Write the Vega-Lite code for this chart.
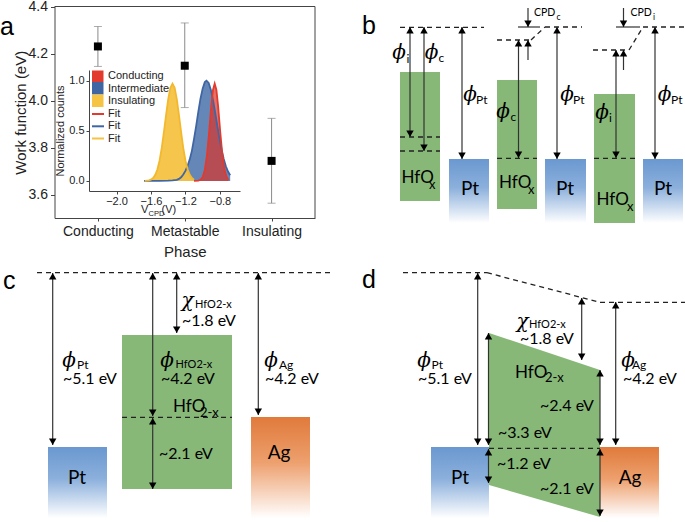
{
"$schema":"https://vega.github.io/schema/vega-lite/v6.json",
"width":685,"height":522,"autosize":{"type":"none"},"padding":0,"background":"white",
"config":{"view":{"stroke":null},"axis":{"grid":false,"labelFont":"Liberation Sans","titleFont":"Liberation Sans","domainColor":"#444","tickColor":"#444","labelColor":"#222","titleColor":"#222","titleFontWeight":"normal","labelOverlap":false}},
"datasets":{
"green":[{"x":400,"x2":440,"y":72,"y2":201},{"x":497,"x2":537,"y":80,"y2":209},{"x":594,"x2":635,"y":94,"y2":223},{"x":122,"x2":232,"y":335,"y2":489}],
"pt":[{"x":449,"x2":489,"y":159,"y2":223},{"x":545,"x2":586,"y":159,"y2":223},{"x":643,"x2":683,"y":159,"y2":223},{"x":48,"x2":107,"y":447,"y2":518},{"x":431,"x2":489,"y":447,"y2":518}],
"ag":[{"x":251,"x2":310,"y":417,"y2":518},{"x":600,"x2":659,"y":447,"y2":518}],
"trap":[{"x":489,"y":333,"y2":485},{"x":600,"y":370,"y2":517}],
"solid":[{"x":410,"y":27,"x2":410,"y2":137},{"x":424,"y":27,"x2":424,"y2":151},{"x":462,"y":27,"x2":462,"y2":159},{"x":518.5,"y":40,"x2":518.5,"y2":158},{"x":528,"y":40,"x2":528,"y2":60},{"x":528,"y":8,"x2":528,"y2":27},{"x":518,"y":27,"x2":540,"y2":27},{"x":557,"y":27,"x2":557,"y2":159},{"x":616,"y":50,"x2":616,"y2":158},{"x":623.5,"y":50,"x2":623.5,"y2":70},{"x":623.5,"y":8,"x2":623.5,"y2":27},{"x":616,"y":27,"x2":640,"y2":27},{"x":655,"y":27,"x2":655,"y2":159},
{"x":52.7,"y":273,"x2":52.7,"y2":445},{"x":152.7,"y":273,"x2":152.7,"y2":416},{"x":152.7,"y":418,"x2":152.7,"y2":489},{"x":176.7,"y":273,"x2":176.7,"y2":333},{"x":258.3,"y":273,"x2":258.3,"y2":415},
{"x":477.7,"y":273,"x2":477.7,"y2":445},{"x":488.5,"y":333,"x2":488.5,"y2":445},{"x":488.5,"y":449,"x2":488.5,"y2":483},{"x":600,"y":370,"x2":600,"y2":445},{"x":600,"y":449,"x2":600,"y2":516},{"x":581.7,"y":298,"x2":581.7,"y2":360},{"x":615.7,"y":302,"x2":615.7,"y2":445}],
"frame":[{"x":54.5,"y":6.5,"x2":315,"y2":6.5},{"x":315,"y":6.5,"x2":315,"y2":218}],
"dashed":[{"x":400,"y":27.3,"x2":484,"y2":27.3},{"x":400,"y":137,"x2":440,"y2":137},{"x":400,"y":151,"x2":440,"y2":151},{"x":497,"y":40,"x2":531,"y2":40},{"x":531,"y":40,"x2":545,"y2":27},{"x":545,"y":27,"x2":582,"y2":27},{"x":497,"y":158.3,"x2":537,"y2":158.3},{"x":593,"y":50,"x2":629,"y2":50},{"x":629,"y":50,"x2":643,"y2":27},{"x":643,"y":27,"x2":685,"y2":27},{"x":594,"y":158.3,"x2":635,"y2":158.3},
{"x":37,"y":272.7,"x2":330,"y2":272.7},{"x":122,"y":417.3,"x2":232,"y2":417.3},
{"x":403,"y":272.7,"x2":487,"y2":272.7},{"x":487,"y":272.7,"x2":600,"y2":302.3},{"x":600,"y":302.3,"x2":685,"y2":302.3},{"x":489,"y":448.3,"x2":600,"y2":448.3}],
"up":[{"x":410,"y":27},{"x":424,"y":27},{"x":462,"y":27},{"x":518.5,"y":40},{"x":528,"y":40},{"x":557,"y":27},{"x":616,"y":50},{"x":623.5,"y":50},{"x":655,"y":27},
{"x":52.7,"y":273},{"x":152.7,"y":273},{"x":152.7,"y":418},{"x":176.7,"y":273},{"x":258.3,"y":273},
{"x":477.7,"y":273},{"x":488.5,"y":333},{"x":488.5,"y":449},{"x":600,"y":370},{"x":600,"y":449},{"x":581.7,"y":298},{"x":615.7,"y":302}],
"down":[{"x":410,"y":137},{"x":424,"y":151},{"x":462,"y":159},{"x":518.5,"y":158},{"x":528,"y":27},{"x":557,"y":159},{"x":616,"y":158},{"x":623.5,"y":27},{"x":655,"y":159},
{"x":52.7,"y":445},{"x":152.7,"y":416},{"x":152.7,"y":489},{"x":176.7,"y":333},{"x":258.3,"y":415},
{"x":477.7,"y":445},{"x":488.5,"y":445},{"x":488.5,"y":483},{"x":600,"y":445},{"x":600,"y":516},{"x":581.7,"y":360},{"x":615.7,"y":445}],
"greek":[{"x":399,"y":53,"t":"ϕ"},{"x":431.5,"y":53,"t":"ϕ"},{"x":470,"y":95,"t":"ϕ"},{"x":503,"y":112,"t":"ϕ"},{"x":567,"y":95,"t":"ϕ"},{"x":602,"y":113,"t":"ϕ"},{"x":664.5,"y":95,"t":"ϕ"},{"x":69,"y":361,"t":"ϕ"},{"x":167,"y":361,"t":"ϕ"},{"x":271,"y":361,"t":"ϕ"},{"x":187.5,"y":301,"t":"χ"},{"x":424,"y":361,"t":"ϕ"},{"x":522.5,"y":322,"t":"χ"},{"x":628,"y":361,"t":"ϕ"}],
"sub12":[{"x":406.5,"y":59,"t":"i"},{"x":438.5,"y":58,"t":"c"},{"x":476,"y":100,"t":"Pt"},{"x":510.5,"y":117,"t":"c"},{"x":573,"y":100,"t":"Pt"},{"x":609,"y":118,"t":"i"},{"x":671,"y":100,"t":"Pt"},{"x":77,"y":365,"t":"Pt"},{"x":279,"y":365,"t":"Ag"},{"x":632,"y":365,"t":"Ag"},{"x":431.5,"y":365,"t":"Pt"}],
"sub11":[{"x":175.5,"y":365,"t":"HfO2-x"},{"x":195,"y":305,"t":"HfO2-x"},{"x":529,"y":325,"t":"HfO2-x"}],
"body16":[{"x":63,"y":379,"t":"~5.1 eV"},{"x":182,"y":321,"t":"~1.8 eV"},{"x":161,"y":379,"t":"~4.2 eV"},{"x":159,"y":454,"t":"~2.1 eV"},{"x":265,"y":379,"t":"~4.2 eV"},{"x":520,"y":339,"t":"~1.8 eV"},{"x":418,"y":379,"t":"~5.1 eV"},{"x":540,"y":406,"t":"~2.4 eV"},{"x":498,"y":433,"t":"~3.3 eV"},{"x":497,"y":464,"t":"~1.2 eV"},{"x":540,"y":489,"t":"~2.1 eV"},{"x":623,"y":379,"t":"~4.2 eV"}],
"hfo":[{"x":401.5,"y":178,"t":"HfO"},{"x":499,"y":183,"t":"HfO"},{"x":596.5,"y":200,"t":"HfO"},{"x":173,"y":407,"t":"HfO"},{"x":515,"y":373,"t":"HfO"}],
"sub13":[{"x":429,"y":185,"t":"x"},{"x":528,"y":190,"t":"x"},{"x":627,"y":207,"t":"x"},{"x":200,"y":413,"t":"2-x"},{"x":545,"y":378,"t":"2-x"}],
"metal":[{"x":470,"y":188.5,"t":"Pt"},{"x":565,"y":188.5,"t":"Pt"},{"x":663,"y":188.5,"t":"Pt"},{"x":77,"y":478,"t":"Pt"},{"x":279,"y":453,"t":"Ag"},{"x":460,"y":478,"t":"Pt"},{"x":630,"y":478,"t":"Ag"}],
"cpd":[{"x":534,"y":13,"t":"CPD"},{"x":630.5,"y":13,"t":"CPD"}],
"cpdsub":[{"x":556.5,"y":17,"t":"c"},{"x":653,"y":17,"t":"i"}],
"letters":[{"x":0,"y":35,"t":"a"},{"x":362,"y":33.5,"t":"b"},{"x":3,"y":289,"t":"c"},{"x":362,"y":288,"t":"d"}],
"legsq":[{"x":92,"x2":103.5,"y":70.5,"y2":82,"s":"Conducting"},{"x":92,"x2":103.5,"y":82,"y2":94.5,"s":"Intermediate"},{"x":92,"x2":103.5,"y":94.5,"y2":107,"s":"Insulating"}],
"legln":[{"x":92,"x2":104,"y":114,"s":"Conducting"},{"x":92,"x2":104,"y":126.3,"s":"Intermediate"},{"x":92,"x2":104,"y":138.5,"s":"Insulating"}],
"legtxt":[{"x":108,"y":76,"t":"Conducting"},{"x":108,"y":88.5,"t":"Intermediate"},{"x":108,"y":100.5,"t":"Insulating"},{"x":108,"y":114,"t":"Fit"},{"x":108,"y":126.3,"t":"Fit"},{"x":108,"y":138.5,"t":"Fit"},{"x":141,"y":209.5,"t":"V"},{"x":161.5,"y":209.5,"t":"(V)"}],
"legsub":[{"x":148.5,"y":214,"t":"CPD"}],
"wf":[{"phase":"Conducting","wf":4.23,"lo":4.145,"hi":4.315},{"phase":"Metastable","wf":4.148,"lo":3.97,"hi":4.33},{"phase":"Insulating","wf":3.743,"lo":3.563,"hi":3.924}],
"ins":[{"v":-1.67,"c":0.001},{"v":-1.625,"c":0.005},{"v":-1.6,"c":0.013},{"v":-1.575,"c":0.029},{"v":-1.55,"c":0.061},{"v":-1.525,"c":0.116},{"v":-1.5,"c":0.204},{"v":-1.475,"c":0.329},{"v":-1.45,"c":0.486},{"v":-1.425,"c":0.657},{"v":-1.4,"c":0.816},{"v":-1.375,"c":0.929},{"v":-1.35,"c":0.97},{"v":-1.325,"c":0.929},{"v":-1.3,"c":0.816},{"v":-1.275,"c":0.657},{"v":-1.25,"c":0.486},{"v":-1.225,"c":0.329},{"v":-1.2,"c":0.204},{"v":-1.175,"c":0.116},{"v":-1.15,"c":0.061},{"v":-1.125,"c":0.029},{"v":-1.1,"c":0.013}],
"int":[{"v":-1.68,"c":0},{"v":-1.5,"c":0.001},{"v":-1.4,"c":0.003},{"v":-1.35,"c":0.006},{"v":-1.3,"c":0.011},{"v":-1.275,"c":0.021},{"v":-1.25,"c":0.037},{"v":-1.225,"c":0.064},{"v":-1.2,"c":0.1},{"v":-1.175,"c":0.15},{"v":-1.15,"c":0.215},{"v":-1.125,"c":0.3},{"v":-1.1,"c":0.42},{"v":-1.075,"c":0.55},{"v":-1.05,"c":0.69},{"v":-1.025,"c":0.82},{"v":-1.0,"c":0.92},{"v":-0.975,"c":0.985},{"v":-0.955,"c":1.0},{"v":-0.93,"c":0.977},{"v":-0.905,"c":0.91},{"v":-0.88,"c":0.808},{"v":-0.855,"c":0.685},{"v":-0.83,"c":0.554},{"v":-0.805,"c":0.427},{"v":-0.78,"c":0.314},{"v":-0.755,"c":0.22},{"v":-0.73,"c":0.147},{"v":-0.705,"c":0.094},{"v":-0.68,"c":0.057}],
"con":[{"v":-1.1,"c":0},{"v":-1.05,"c":0.003},{"v":-1.025,"c":0.011},{"v":-1.0,"c":0.038},{"v":-0.975,"c":0.109},{"v":-0.95,"c":0.254},{"v":-0.925,"c":0.483},{"v":-0.9,"c":0.745},{"v":-0.88,"c":0.908},{"v":-0.86,"c":0.97},{"v":-0.84,"c":0.908},{"v":-0.82,"c":0.745},{"v":-0.795,"c":0.483},{"v":-0.77,"c":0.254},{"v":-0.745,"c":0.109},{"v":-0.72,"c":0.038},{"v":-0.7,"c":0.011}]
},
"layer":[
{"layer":[
 {"data":{"name":"green"},"mark":{"type":"rect","color":"#87b878"},"encoding":{"x":{"field":"x","type":"quantitative","scale":{"domain":[0,685],"range":[0,685],"nice":false,"zero":false},"axis":null},"x2":{"field":"x2"},"y":{"field":"y","type":"quantitative","scale":{"domain":[0,522],"range":[0,522],"nice":false,"zero":false},"axis":null},"y2":{"field":"y2"}}},
 {"data":{"name":"trap"},"mark":{"type":"area","color":"#87b878","opacity":1},"encoding":{"x":{"field":"x","type":"quantitative","scale":{"domain":[0,685],"range":[0,685],"nice":false,"zero":false},"axis":null},"y":{"field":"y","type":"quantitative","stack":null,"scale":{"domain":[0,522],"range":[0,522],"nice":false,"zero":false},"axis":null},"y2":{"field":"y2"}}},
 {"data":{"name":"pt"},"mark":{"type":"rect","fill":{"gradient":"linear","x1":0,"y1":0,"x2":0,"y2":1,"stops":[{"offset":0,"color":"#6a98d0"},{"offset":0.45,"color":"#8cb0dc"},{"offset":1,"color":"#ffffff"}]}},"encoding":{"x":{"field":"x","type":"quantitative","scale":{"domain":[0,685],"range":[0,685],"nice":false,"zero":false},"axis":null},"x2":{"field":"x2"},"y":{"field":"y","type":"quantitative","scale":{"domain":[0,522],"range":[0,522],"nice":false,"zero":false},"axis":null},"y2":{"field":"y2"}}},
 {"data":{"name":"ag"},"mark":{"type":"rect","fill":{"gradient":"linear","x1":0,"y1":0,"x2":0,"y2":1,"stops":[{"offset":0,"color":"#e07a3b"},{"offset":0.45,"color":"#eda06e"},{"offset":1,"color":"#ffffff"}]}},"encoding":{"x":{"field":"x","type":"quantitative","scale":{"domain":[0,685],"range":[0,685],"nice":false,"zero":false},"axis":null},"x2":{"field":"x2"},"y":{"field":"y","type":"quantitative","scale":{"domain":[0,522],"range":[0,522],"nice":false,"zero":false},"axis":null},"y2":{"field":"y2"}}},
 {"data":{"name":"dashed"},"mark":{"type":"rule","color":"#222","strokeWidth":1.3,"strokeDash":[5,4]},"encoding":{"x":{"field":"x","type":"quantitative","scale":{"domain":[0,685],"range":[0,685],"nice":false,"zero":false},"axis":null},"x2":{"field":"x2"},"y":{"field":"y","type":"quantitative","scale":{"domain":[0,522],"range":[0,522],"nice":false,"zero":false},"axis":null},"y2":{"field":"y2"}}},
 {"data":{"name":"solid"},"mark":{"type":"rule","color":"#333","strokeWidth":1.2},"encoding":{"x":{"field":"x","type":"quantitative","scale":{"domain":[0,685],"range":[0,685],"nice":false,"zero":false},"axis":null},"x2":{"field":"x2"},"y":{"field":"y","type":"quantitative","scale":{"domain":[0,522],"range":[0,522],"nice":false,"zero":false},"axis":null},"y2":{"field":"y2"}}},
 {"data":{"name":"frame"},"mark":{"type":"rule","color":"#444","strokeWidth":1},"encoding":{"x":{"field":"x","type":"quantitative","scale":{"domain":[0,685],"range":[0,685],"nice":false,"zero":false},"axis":null},"x2":{"field":"x2"},"y":{"field":"y","type":"quantitative","scale":{"domain":[0,522],"range":[0,522],"nice":false,"zero":false},"axis":null},"y2":{"field":"y2"}}},
 {"data":{"name":"up"},"mark":{"type":"point","shape":"triangle-up","filled":true,"color":"#000","opacity":1,"size":55,"yOffset":3.3},"encoding":{"x":{"field":"x","type":"quantitative","scale":{"domain":[0,685],"range":[0,685],"nice":false,"zero":false},"axis":null},"y":{"field":"y","type":"quantitative","scale":{"domain":[0,522],"range":[0,522],"nice":false,"zero":false},"axis":null}}},
 {"data":{"name":"down"},"mark":{"type":"point","shape":"triangle-down","filled":true,"color":"#000","opacity":1,"size":55,"yOffset":-3.3},"encoding":{"x":{"field":"x","type":"quantitative","scale":{"domain":[0,685],"range":[0,685],"nice":false,"zero":false},"axis":null},"y":{"field":"y","type":"quantitative","scale":{"domain":[0,522],"range":[0,522],"nice":false,"zero":false},"axis":null}}},
 {"data":{"name":"greek"},"mark":{"type":"text","font":"DejaVu Serif","fontStyle":"italic","fontSize":20,"align":"center","baseline":"middle","color":"#000"},"encoding":{"x":{"field":"x","type":"quantitative","scale":{"domain":[0,685],"range":[0,685],"nice":false,"zero":false},"axis":null},"y":{"field":"y","type":"quantitative","scale":{"domain":[0,522],"range":[0,522],"nice":false,"zero":false},"axis":null},"text":{"field":"t"}}},
 {"data":{"name":"sub12"},"mark":{"type":"text","font":"Lato","fontSize":12,"align":"left","baseline":"middle","color":"#000"},"encoding":{"x":{"field":"x","type":"quantitative","scale":{"domain":[0,685],"range":[0,685],"nice":false,"zero":false},"axis":null},"y":{"field":"y","type":"quantitative","scale":{"domain":[0,522],"range":[0,522],"nice":false,"zero":false},"axis":null},"text":{"field":"t"}}},
 {"data":{"name":"sub11"},"mark":{"type":"text","font":"Lato","fontSize":11,"align":"left","baseline":"middle","color":"#000"},"encoding":{"x":{"field":"x","type":"quantitative","scale":{"domain":[0,685],"range":[0,685],"nice":false,"zero":false},"axis":null},"y":{"field":"y","type":"quantitative","scale":{"domain":[0,522],"range":[0,522],"nice":false,"zero":false},"axis":null},"text":{"field":"t"}}},
 {"data":{"name":"body16"},"mark":{"type":"text","font":"Lato","fontSize":16,"align":"left","baseline":"middle","color":"#000"},"encoding":{"x":{"field":"x","type":"quantitative","scale":{"domain":[0,685],"range":[0,685],"nice":false,"zero":false},"axis":null},"y":{"field":"y","type":"quantitative","scale":{"domain":[0,522],"range":[0,522],"nice":false,"zero":false},"axis":null},"text":{"field":"t"}}},
 {"data":{"name":"hfo"},"mark":{"type":"text","font":"Lato","fontSize":17,"align":"left","baseline":"middle","color":"#000"},"encoding":{"x":{"field":"x","type":"quantitative","scale":{"domain":[0,685],"range":[0,685],"nice":false,"zero":false},"axis":null},"y":{"field":"y","type":"quantitative","scale":{"domain":[0,522],"range":[0,522],"nice":false,"zero":false},"axis":null},"text":{"field":"t"}}},
 {"data":{"name":"sub13"},"mark":{"type":"text","font":"Lato","fontSize":13,"align":"left","baseline":"middle","color":"#000"},"encoding":{"x":{"field":"x","type":"quantitative","scale":{"domain":[0,685],"range":[0,685],"nice":false,"zero":false},"axis":null},"y":{"field":"y","type":"quantitative","scale":{"domain":[0,522],"range":[0,522],"nice":false,"zero":false},"axis":null},"text":{"field":"t"}}},
 {"data":{"name":"metal"},"mark":{"type":"text","font":"Lato","fontSize":19,"align":"center","baseline":"middle","color":"#000"},"encoding":{"x":{"field":"x","type":"quantitative","scale":{"domain":[0,685],"range":[0,685],"nice":false,"zero":false},"axis":null},"y":{"field":"y","type":"quantitative","scale":{"domain":[0,522],"range":[0,522],"nice":false,"zero":false},"axis":null},"text":{"field":"t"}}},
 {"data":{"name":"cpd"},"mark":{"type":"text","font":"Lato","fontSize":10.5,"align":"left","baseline":"middle","color":"#000"},"encoding":{"x":{"field":"x","type":"quantitative","scale":{"domain":[0,685],"range":[0,685],"nice":false,"zero":false},"axis":null},"y":{"field":"y","type":"quantitative","scale":{"domain":[0,522],"range":[0,522],"nice":false,"zero":false},"axis":null},"text":{"field":"t"}}},
 {"data":{"name":"cpdsub"},"mark":{"type":"text","font":"Lato","fontSize":8.5,"align":"left","baseline":"middle","color":"#000"},"encoding":{"x":{"field":"x","type":"quantitative","scale":{"domain":[0,685],"range":[0,685],"nice":false,"zero":false},"axis":null},"y":{"field":"y","type":"quantitative","scale":{"domain":[0,522],"range":[0,522],"nice":false,"zero":false},"axis":null},"text":{"field":"t"}}},
 {"data":{"name":"letters"},"mark":{"type":"text","font":"Liberation Sans","fontSize":25,"align":"left","baseline":"alphabetic","color":"#000"},"encoding":{"x":{"field":"x","type":"quantitative","scale":{"domain":[0,685],"range":[0,685],"nice":false,"zero":false},"axis":null},"y":{"field":"y","type":"quantitative","scale":{"domain":[0,522],"range":[0,522],"nice":false,"zero":false},"axis":null},"text":{"field":"t"}}},
 {"data":{"name":"legsq"},"mark":{"type":"rect"},"encoding":{"x":{"field":"x","type":"quantitative","scale":{"domain":[0,685],"range":[0,685],"nice":false,"zero":false},"axis":null},"x2":{"field":"x2"},"y":{"field":"y","type":"quantitative","scale":{"domain":[0,522],"range":[0,522],"nice":false,"zero":false},"axis":null},"y2":{"field":"y2"},"color":{"field":"s","type":"nominal","scale":{"domain":["Conducting","Intermediate","Insulating"],"range":["#e23a2c","#3f66a3","#f6c342"]},"legend":null}}},
 {"data":{"name":"legln"},"mark":{"type":"rule","strokeWidth":2},"encoding":{"x":{"field":"x","type":"quantitative","scale":{"domain":[0,685],"range":[0,685],"nice":false,"zero":false},"axis":null},"x2":{"field":"x2"},"y":{"field":"y","type":"quantitative","scale":{"domain":[0,522],"range":[0,522],"nice":false,"zero":false},"axis":null},"color":{"field":"s","type":"nominal","scale":{"domain":["Conducting","Intermediate","Insulating"],"range":["#e23a2c","#3f66a3","#f6c342"]},"legend":null}}},
 {"data":{"name":"legtxt"},"mark":{"type":"text","font":"Liberation Sans","fontSize":11,"align":"left","baseline":"middle","color":"#222"},"encoding":{"x":{"field":"x","type":"quantitative","scale":{"domain":[0,685],"range":[0,685],"nice":false,"zero":false},"axis":null},"y":{"field":"y","type":"quantitative","scale":{"domain":[0,522],"range":[0,522],"nice":false,"zero":false},"axis":null},"text":{"field":"t"}}},
 {"data":{"name":"legsub"},"mark":{"type":"text","font":"Liberation Sans","fontSize":7.5,"align":"left","baseline":"middle","color":"#222"},"encoding":{"x":{"field":"x","type":"quantitative","scale":{"domain":[0,685],"range":[0,685],"nice":false,"zero":false},"axis":null},"y":{"field":"y","type":"quantitative","scale":{"domain":[0,522],"range":[0,522],"nice":false,"zero":false},"axis":null},"text":{"field":"t"}}}
]},
{"data":{"name":"wf"},"layer":[
 {"mark":{"type":"rule","color":"#8a8a8a","strokeWidth":1},"encoding":{"x":{"field":"phase","type":"nominal","sort":null,"scale":{"type":"point","domain":["Conducting","Metastable","Insulating"],"range":[54.5,315],"padding":0.5},"axis":{"orient":"bottom","offset":-304,"title":"Phase","labelAngle":0,"labelFontSize":14,"titleFontSize":15,"tickSize":3,"labelPadding":3,"titlePadding":6}},"y":{"field":"lo","type":"quantitative","scale":{"domain":[3.5,4.4],"range":[218,6.5],"nice":false,"zero":false},"axis":{"orient":"left","offset":-54.5,"values":[3.6,3.8,4.0,4.2,4.4],"format":".1f","title":"Work function (eV)","labelFontSize":14,"titleFontSize":15,"tickSize":4,"labelPadding":3,"titlePadding":0}},"y2":{"field":"hi"}}},
 {"mark":{"type":"tick","color":"#8a8a8a","size":8,"thickness":1},"encoding":{"x":{"field":"phase","type":"nominal","sort":null,"scale":{"type":"point","domain":["Conducting","Metastable","Insulating"],"range":[54.5,315],"padding":0.5},"axis":{"orient":"bottom","offset":-304,"title":"Phase","labelAngle":0,"labelFontSize":14,"titleFontSize":15,"tickSize":3,"labelPadding":3,"titlePadding":6}},"y":{"field":"lo","type":"quantitative","scale":{"domain":[3.5,4.4],"range":[218,6.5],"nice":false,"zero":false},"axis":{"orient":"left","offset":-54.5,"values":[3.6,3.8,4.0,4.2,4.4],"format":".1f","title":"Work function (eV)","labelFontSize":14,"titleFontSize":15,"tickSize":4,"labelPadding":3,"titlePadding":0}}}},
 {"mark":{"type":"tick","color":"#8a8a8a","size":8,"thickness":1},"encoding":{"x":{"field":"phase","type":"nominal","sort":null,"scale":{"type":"point","domain":["Conducting","Metastable","Insulating"],"range":[54.5,315],"padding":0.5},"axis":{"orient":"bottom","offset":-304,"title":"Phase","labelAngle":0,"labelFontSize":14,"titleFontSize":15,"tickSize":3,"labelPadding":3,"titlePadding":6}},"y":{"field":"hi","type":"quantitative","scale":{"domain":[3.5,4.4],"range":[218,6.5],"nice":false,"zero":false},"axis":{"orient":"left","offset":-54.5,"values":[3.6,3.8,4.0,4.2,4.4],"format":".1f","title":"Work function (eV)","labelFontSize":14,"titleFontSize":15,"tickSize":4,"labelPadding":3,"titlePadding":0}}}},
 {"mark":{"type":"point","shape":"square","filled":true,"color":"#000","opacity":1,"size":64},"encoding":{"x":{"field":"phase","type":"nominal","sort":null,"scale":{"type":"point","domain":["Conducting","Metastable","Insulating"],"range":[54.5,315],"padding":0.5},"axis":{"orient":"bottom","offset":-304,"title":"Phase","labelAngle":0,"labelFontSize":14,"titleFontSize":15,"tickSize":3,"labelPadding":3,"titlePadding":6}},"y":{"field":"wf","type":"quantitative","scale":{"domain":[3.5,4.4],"range":[218,6.5],"nice":false,"zero":false},"axis":{"orient":"left","offset":-54.5,"values":[3.6,3.8,4.0,4.2,4.4],"format":".1f","title":"Work function (eV)","labelFontSize":14,"titleFontSize":15,"tickSize":4,"labelPadding":3,"titlePadding":0}}}}
]},
{"layer":[
 {"data":{"name":"int"},"mark":{"type":"area","color":"#4a72ab","opacity":0.85},"encoding":{"x":{"field":"v","type":"quantitative","scale":{"domain":[-2.32,-0.566],"range":[89,240],"nice":false,"zero":false},"axis":{"orient":"bottom","offset":-331,"values":[-2.0,-1.6,-1.2,-0.8],"format":".1f","title":null,"labelFontSize":11,"tickSize":3,"labelPadding":1}},"y":{"field":"c","type":"quantitative","stack":null,"scale":{"domain":[-0.1,1.106],"range":[191,70],"nice":false,"zero":false},"axis":{"orient":"left","offset":-89,"values":[0,0.5,1],"format":".1f","title":"Normalized counts","titleFontSize":11,"labelFontSize":11,"tickSize":3,"labelPadding":2,"titlePadding":3}},"y2":{"datum":0}}},
 {"data":{"name":"ins"},"mark":{"type":"area","color":"#f5c242","opacity":0.95},"encoding":{"x":{"field":"v","type":"quantitative","scale":{"domain":[-2.32,-0.566],"range":[89,240],"nice":false,"zero":false},"axis":{"orient":"bottom","offset":-331,"values":[-2.0,-1.6,-1.2,-0.8],"format":".1f","title":null,"labelFontSize":11,"tickSize":3,"labelPadding":1}},"y":{"field":"c","type":"quantitative","stack":null,"scale":{"domain":[-0.1,1.106],"range":[191,70],"nice":false,"zero":false},"axis":{"orient":"left","offset":-89,"values":[0,0.5,1],"format":".1f","title":"Normalized counts","titleFontSize":11,"labelFontSize":11,"tickSize":3,"labelPadding":2,"titlePadding":3}},"y2":{"datum":0}}},
 {"data":{"name":"con"},"mark":{"type":"area","color":"#d8342b","opacity":0.7},"encoding":{"x":{"field":"v","type":"quantitative","scale":{"domain":[-2.32,-0.566],"range":[89,240],"nice":false,"zero":false},"axis":{"orient":"bottom","offset":-331,"values":[-2.0,-1.6,-1.2,-0.8],"format":".1f","title":null,"labelFontSize":11,"tickSize":3,"labelPadding":1}},"y":{"field":"c","type":"quantitative","stack":null,"scale":{"domain":[-0.1,1.106],"range":[191,70],"nice":false,"zero":false},"axis":{"orient":"left","offset":-89,"values":[0,0.5,1],"format":".1f","title":"Normalized counts","titleFontSize":11,"labelFontSize":11,"tickSize":3,"labelPadding":2,"titlePadding":3}},"y2":{"datum":0}}},
 {"data":{"name":"int"},"mark":{"type":"line","color":"#3f66a3","strokeWidth":1.8},"encoding":{"x":{"field":"v","type":"quantitative","scale":{"domain":[-2.32,-0.566],"range":[89,240],"nice":false,"zero":false},"axis":{"orient":"bottom","offset":-331,"values":[-2.0,-1.6,-1.2,-0.8],"format":".1f","title":null,"labelFontSize":11,"tickSize":3,"labelPadding":1}},"y":{"field":"c","type":"quantitative","stack":null,"scale":{"domain":[-0.1,1.106],"range":[191,70],"nice":false,"zero":false},"axis":{"orient":"left","offset":-89,"values":[0,0.5,1],"format":".1f","title":"Normalized counts","titleFontSize":11,"labelFontSize":11,"tickSize":3,"labelPadding":2,"titlePadding":3}}}},
 {"data":{"name":"ins"},"mark":{"type":"line","color":"#f3b92e","strokeWidth":1.8},"encoding":{"x":{"field":"v","type":"quantitative","scale":{"domain":[-2.32,-0.566],"range":[89,240],"nice":false,"zero":false},"axis":{"orient":"bottom","offset":-331,"values":[-2.0,-1.6,-1.2,-0.8],"format":".1f","title":null,"labelFontSize":11,"tickSize":3,"labelPadding":1}},"y":{"field":"c","type":"quantitative","stack":null,"scale":{"domain":[-0.1,1.106],"range":[191,70],"nice":false,"zero":false},"axis":{"orient":"left","offset":-89,"values":[0,0.5,1],"format":".1f","title":"Normalized counts","titleFontSize":11,"labelFontSize":11,"tickSize":3,"labelPadding":2,"titlePadding":3}}}},
 {"data":{"name":"con"},"mark":{"type":"line","color":"#e23a2c","strokeWidth":1.8},"encoding":{"x":{"field":"v","type":"quantitative","scale":{"domain":[-2.32,-0.566],"range":[89,240],"nice":false,"zero":false},"axis":{"orient":"bottom","offset":-331,"values":[-2.0,-1.6,-1.2,-0.8],"format":".1f","title":null,"labelFontSize":11,"tickSize":3,"labelPadding":1}},"y":{"field":"c","type":"quantitative","stack":null,"scale":{"domain":[-0.1,1.106],"range":[191,70],"nice":false,"zero":false},"axis":{"orient":"left","offset":-89,"values":[0,0.5,1],"format":".1f","title":"Normalized counts","titleFontSize":11,"labelFontSize":11,"tickSize":3,"labelPadding":2,"titlePadding":3}}}}
]}
],
"resolve":{"scale":{"x":"independent","y":"independent","color":"independent"},"axis":{"x":"independent","y":"independent"}}
}
